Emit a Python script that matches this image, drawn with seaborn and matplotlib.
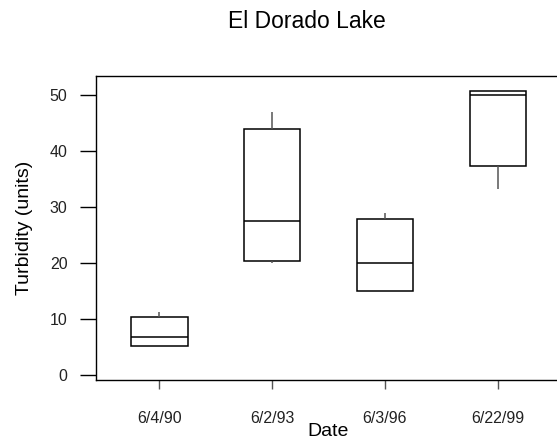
import numpy as np
import pandas as pd
import matplotlib
matplotlib.use("Agg")
import matplotlib.pyplot as plt
import seaborn as sns

# Five-number summaries (min, Q1, median, Q3, max) per sampling date
dates = ["6/4/90", "6/2/93", "6/3/96", "6/22/99"]
d_6490 = [5.1, 5.1, 6.7, 10.4, 11.2]
d_6293 = [20.0, 20.3, 27.4, 43.8, 46.9]
d_6396 = [14.9, 14.9, 19.9, 27.9, 28.8]
d_62299 = [33.1, 37.2, 50.0, 50.7, 50.7]
yticks = [0, 10, 20, 30, 40, 50]

df = pd.DataFrame({
    "Date": np.repeat(dates, 5),
    "Turbidity": d_6490 + d_6293 + d_6396 + d_62299,
})

sns.set_style("white")
plt.rcParams["font.family"] = ["Liberation Sans", "DejaVu Sans"]
plt.rcParams["text.color"] = "black"
plt.rcParams["axes.labelcolor"] = "black"

fig = plt.figure(figsize=(5.57, 4.41), dpi=100)
ax = fig.add_axes([0.1718, 0.1383, 0.836, 0.6893])

sns.boxplot(data=df, x="Date", y="Turbidity", order=dates, ax=ax,
            color="white", linecolor="black", linewidth=1.1, width=0.5,
            whis=(0, 100), fliersize=0, showcaps=False, saturation=1,
            whiskerprops=dict(color="#555555", linewidth=1.1),
            medianprops=dict(color="black", linewidth=1.1))

ax.set_xlim(-0.564, 3.564)
ax.set_ylim(-0.89, 53.3)
ax.set_yticks(yticks)
ax.set_yticklabels([str(t) for t in yticks])

for s in ax.spines.values():
    s.set_color("black")
    s.set_linewidth(1.0)
    s.set_visible(True)

ax.tick_params(axis="y", direction="out", length=11.3, width=1, color="black",
               pad=9, labelsize=11.5, labelcolor="#222222", left=True)
ax.tick_params(axis="x", direction="out", length=6.5, width=1, color="#555555",
               pad=16, labelsize=11.5, labelcolor="#222222", bottom=True)

ax.set_xlabel("Date", fontsize=14, labelpad=-2.5)
ax.set_ylabel("Turbidity (units)", fontsize=14, labelpad=12)

fig.text(307.2 / 557, 1 - 22 / 441, "El Dorado Lake", fontsize=16.5,
         ha="center", va="center", color="black")

fig.savefig("out.png", dpi=100)
